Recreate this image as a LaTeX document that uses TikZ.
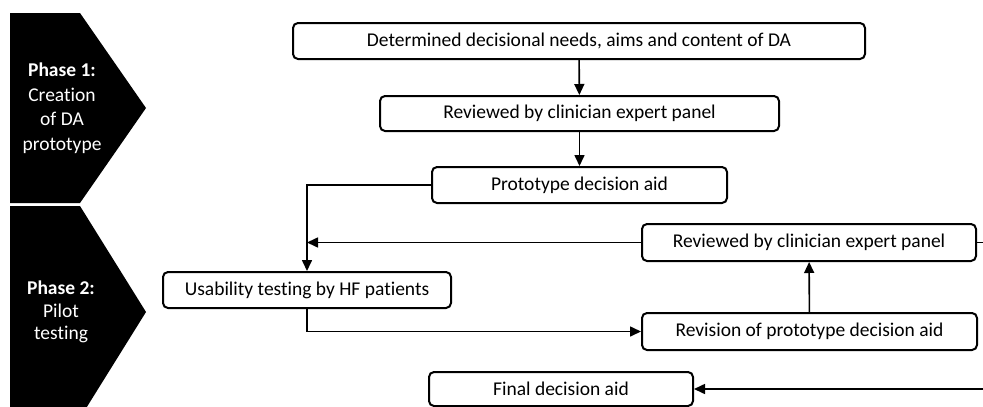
\documentclass[tikz,border=0pt]{standalone}
\usepackage{fontspec}
\setmainfont[RawFeature={-liga}]{Carlito}
\usetikzlibrary{arrows.meta}

\tikzset{
  stepbox/.style={draw, line width=2pt, rounded corners=5pt, inner sep=0pt, align=center,
    font=\fontsize{19.5}{23}\selectfont},
  flow/.style={line width=1.6pt, -{Triangle[length=11pt,width=10pt]}},
  phasetext/.style={text=white, align=center, font=\fontsize{19.5}{24.5}\selectfont}
}

\begin{document}
\begin{tikzpicture}[x=1pt,y=-1pt]
  \useasboundingbox (0,0) rectangle (983,407);

  % Phase chevrons
  \fill[black] (10,13) -- (80,13) -- (146,108) -- (80,203) -- (10,203) -- cycle;
  \fill[black] (10,206) -- (80,206) -- (146,312) -- (80,418) -- (10,418) -- cycle;
  \node[phasetext] (phaseone) at (62,108) {\textbf{Phase 1:}\\Creation\\of DA\\prototype};
  \node[phasetext, font=\fontsize{19.5}{22.5}\selectfont] (phasetwo) at (61,312) {\textbf{Phase 2:}\\Pilot\\testing};

  % Boxes
  \node[stepbox, minimum width=572pt, minimum height=36pt] (needs) at (579,41) {Determined decisional needs, aims and content of DA};
  \node[stepbox, minimum width=399pt, minimum height=35pt] (panelone) at (579.5,113.5) {Reviewed by clinician expert panel};
  \node[stepbox, minimum width=295pt, minimum height=36pt] (proto) at (579.5,185) {Prototype decision aid};
  \node[stepbox, minimum width=288pt, minimum height=36pt] (usability) at (307,290) {Usability testing by HF patients};
  \node[stepbox, minimum width=334pt, minimum height=37pt] (paneltwo) at (809,242.5) {Reviewed by clinician expert panel};
  \node[stepbox, minimum width=335pt, minimum height=37pt] (revision) at (809.5,331.5) {Revision of prototype decision aid};
  \node[stepbox, minimum width=264pt, minimum height=34pt] (final) at (561,389) {Final decision aid};
  \coordinate (loopright) at (990,242.5);

  % Connectors
  \draw[flow] (needs) -- (panelone);
  \draw[flow] (panelone) -- (proto);
  \draw[flow] (proto.west) -| (usability.north);
  \draw[flow] (paneltwo.west) -- (usability.north |- paneltwo.west);
  \draw[flow] (usability.south) |- (revision.west);
  \draw[flow] (revision) -- (paneltwo);
  \draw[flow] (paneltwo.east) -- (loopright) |- (final.east);
\end{tikzpicture}
\end{document}
